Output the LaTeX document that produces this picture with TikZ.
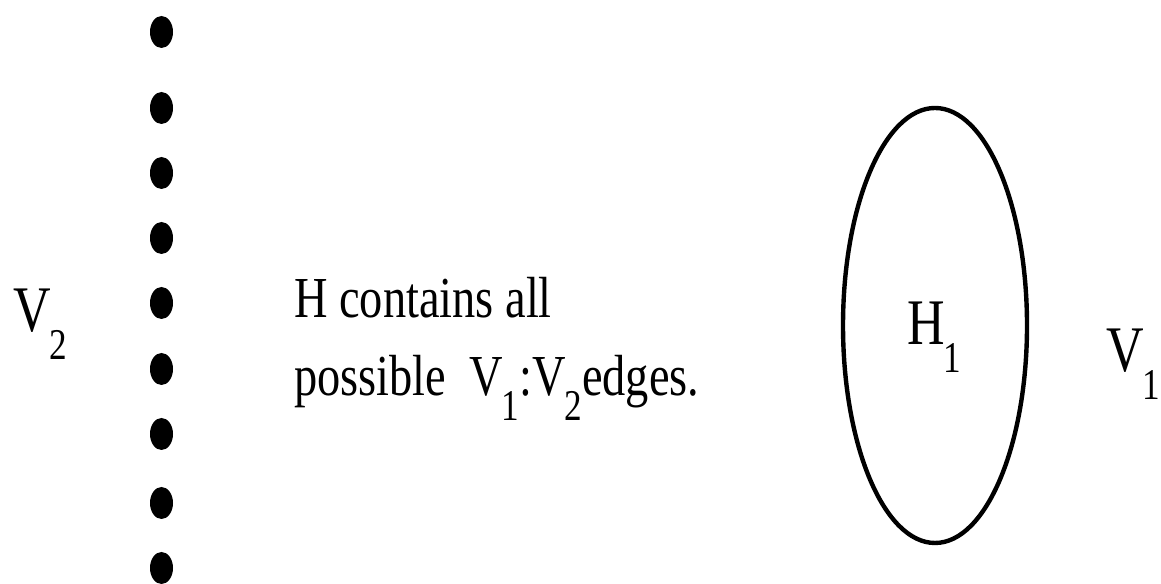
\documentclass[tikz,border=0pt]{standalone}
\usepackage{fontspec}
\usetikzlibrary{shapes.geometric,positioning}

\newfontfamily\figfont[FakeStretch=0.8]{Liberation Serif}
\newcommand\lowsub[1]{\kern-0.02em\raisebox{-0.43em}{\fontsize{12.5}{12.5}\selectfont #1}}

\tikzset{
  vdot/.style={ellipse, fill=black, inner sep=0pt, minimum width=0.23cm, minimum height=0.32cm},
  setlabel/.style={anchor=base west, inner sep=0pt, font=\figfont\fontsize{18.5}{20}\selectfont},
  remark/.style={anchor=base west, inner sep=0pt, font=\figfont\fontsize{16.5}{20}\selectfont}
}

\begin{document}
\begin{tikzpicture}[line width=1.25pt]
  \useasboundingbox (0,0) rectangle (11.61,5.84);

  % the vertices of V_2
  \foreach \i/\y in {1/5.52, 2/4.76, 3/4.11, 4/3.46, 5/2.81, 6/2.15, 7/1.50, 8/0.81, 9/0.16}
    \node[vdot] (d\i) at (1.615,\y) {};
  \node[setlabel] (v2) at (0.11,2.52) {V\lowsub{2}};

  % the text in between
  \node[remark] (line1) at (2.92,2.66) {H contains all};
  \node[remark] (line2) at (2.92,1.88) {possible\ \ V\lowsub{1}:V\lowsub{2}edges.};

  % the set H_1 inside V_1
  \node[ellipse, draw, inner sep=0pt, minimum width=1.84cm, minimum height=4.35cm] (h1) at (9.35,2.585) {};
  \node[setlabel] (h1lab) at (9.05,2.39) {H\lowsub{1}};
  \node[setlabel] (v1) at (11.04,2.12) {V\lowsub{1}};
\end{tikzpicture}
\end{document}
